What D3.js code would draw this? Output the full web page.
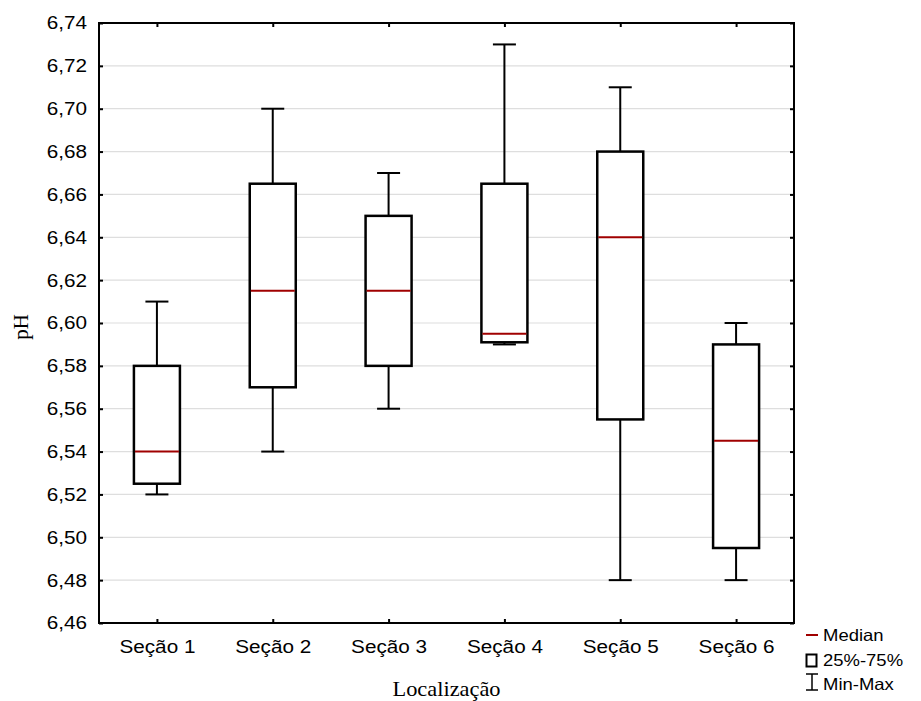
<html>
<meta charset='utf-8'>
<head>
    <script src="https://d3js.org/d3.v7.min.js"></script>
    <style>
      body { margin: 0; background: white; }
    </style>
</head>
<body>
<div id='viz'></div>
<script>
    // data
    const categories = ['Seção 1', 'Seção 2', 'Seção 3', 'Seção 4', 'Seção 5', 'Seção 6'];
    const maxVals    = [6.61, 6.70, 6.67, 6.73, 6.71, 6.60];
    const q3Vals     = [6.58, 6.665, 6.65, 6.665, 6.68, 6.59];
    const medianVals = [6.54, 6.615, 6.615, 6.595, 6.64, 6.545];
    const q1Vals     = [6.525, 6.57, 6.58, 6.591, 6.555, 6.495];
    const minVals    = [6.52, 6.54, 6.56, 6.59, 6.48, 6.48];
    const yTicks = [6.46, 6.48, 6.50, 6.52, 6.54, 6.56, 6.58, 6.60, 6.62, 6.64, 6.66, 6.68, 6.70, 6.72, 6.74];
    const legendLabels = ['Median', '25%-75%', 'Min-Max'];

    const W = 921, H = 701;
    const pLeft = 99, pRight = 794, pTop = 23, pBottom = 623;
    const sx = 1.12; // text in the original is a bit wide
    const sans = '"Liberation Sans", Arial, sans-serif';
    const serif = '"Liberation Serif", "Times New Roman", serif';
    const medColor = '#a00000';

    let svg = d3.select('#viz').append('svg')
        .attr('width', W)
        .attr('height', H);

    let x = d3.scalePoint().domain(categories).range([pLeft, pRight]).padding(0.5);
    let y = d3.scaleLinear().domain([6.46, 6.74]).range([pBottom, pTop]);

    let fmt = d => d3.format('.2f')(d).replace('.', ',');

    // grid
    svg.append('g')
        .selectAll('line')
        .data(yTicks.slice(1, -1))
        .join('line')
        .attr('x1', pLeft).attr('x2', pRight)
        .attr('y1', d => y(d)).attr('y2', d => y(d))
        .attr('stroke', '#dedede')
        .attr('stroke-width', 1.2);

    // boxes
    let data = categories.map((c, i) => ({
        c: c, max: maxVals[i], q3: q3Vals[i], med: medianVals[i], q1: q1Vals[i], min: minVals[i]
    }));
    let boxW = 46, capW = 23;
    let g = svg.append('g').selectAll('g').data(data).join('g');

    g.append('line')
        .attr('x1', d => x(d.c)).attr('x2', d => x(d.c))
        .attr('y1', d => y(d.max)).attr('y2', d => y(d.min))
        .attr('stroke', 'black').attr('stroke-width', 2);
    g.append('line')
        .attr('x1', d => x(d.c) - capW / 2).attr('x2', d => x(d.c) + capW / 2)
        .attr('y1', d => y(d.max)).attr('y2', d => y(d.max))
        .attr('stroke', 'black').attr('stroke-width', 2);
    g.append('line')
        .attr('x1', d => x(d.c) - capW / 2).attr('x2', d => x(d.c) + capW / 2)
        .attr('y1', d => y(d.min)).attr('y2', d => y(d.min))
        .attr('stroke', 'black').attr('stroke-width', 2);
    g.append('rect')
        .attr('x', d => x(d.c) - boxW / 2)
        .attr('width', boxW)
        .attr('y', d => y(d.q3))
        .attr('height', d => y(d.q1) - y(d.q3))
        .attr('fill', 'white')
        .attr('stroke', 'black').attr('stroke-width', 2.5);
    g.append('line')
        .attr('x1', d => x(d.c) - boxW / 2 + 1).attr('x2', d => x(d.c) + boxW / 2 - 1)
        .attr('y1', d => y(d.med)).attr('y2', d => y(d.med))
        .attr('stroke', medColor).attr('stroke-width', 2);

    // axes
    let yAxis = svg.append('g')
        .attr('transform', `translate(${pLeft},0)`)
        .call(d3.axisLeft(y).tickValues(yTicks).tickFormat(fmt).tickSize(-4).tickPadding(12));
    yAxis.selectAll('text')
        .attr('x', -12 / sx)
        .attr('transform', `scale(${sx},1)`);

    let yAxisR = svg.append('g')
        .attr('transform', `translate(${pRight},0)`)
        .call(d3.axisRight(y).tickValues(yTicks).tickFormat('').tickSize(-4));

    let xAxis = svg.append('g')
        .attr('transform', `translate(0,${pBottom})`)
        .call(d3.axisBottom(x).tickSize(-4).tickPadding(17));
    xAxis.selectAll('text').attr('transform', `scale(${sx},1)`);

    let xAxisT = svg.append('g')
        .attr('transform', `translate(0,${pTop})`)
        .call(d3.axisTop(x).tickFormat('').tickSize(-4));

    [yAxis, yAxisR, xAxis, xAxisT].forEach(a => {
        a.select('.domain').remove();
        a.selectAll('line').attr('stroke', 'black').attr('stroke-width', 2);
        a.selectAll('text').attr('font-family', sans).attr('font-size', '18.5px').attr('fill', 'black');
    });

    svg.append('rect')
        .attr('x', pLeft).attr('y', pTop)
        .attr('width', pRight - pLeft).attr('height', pBottom - pTop)
        .attr('fill', 'none').attr('stroke', 'black').attr('stroke-width', 2);

    // axis titles
    svg.append('text')
        .attr('transform', `translate(${(pLeft + pRight) / 2},696) scale(${sx},1)`)
        .attr('text-anchor', 'middle')
        .attr('font-family', serif)
        .attr('font-size', '20px')
        .text('Localização');

    svg.append('text')
        .attr('transform', 'translate(28,327) rotate(-90)')
        .attr('text-anchor', 'middle')
        .attr('font-family', serif)
        .attr('font-size', '21px')
        .text('pH');

    // legend
    let lg = svg.append('g');
    lg.append('line')
        .attr('x1', 806).attr('x2', 818).attr('y1', 635).attr('y2', 635)
        .attr('stroke', medColor).attr('stroke-width', 2);
    lg.append('rect')
        .attr('x', 806.5).attr('y', 654.5).attr('width', 10).attr('height', 12)
        .attr('fill', 'white').attr('stroke', 'black').attr('stroke-width', 2);
    lg.append('line')
        .attr('x1', 812).attr('x2', 812).attr('y1', 674).attr('y2', 690)
        .attr('stroke', 'black').attr('stroke-width', 1.5);
    lg.append('line')
        .attr('x1', 806).attr('x2', 818).attr('y1', 674).attr('y2', 674)
        .attr('stroke', 'black').attr('stroke-width', 1.5);
    lg.append('line')
        .attr('x1', 806).attr('x2', 818).attr('y1', 690).attr('y2', 690)
        .attr('stroke', 'black').attr('stroke-width', 1.5);
    lg.selectAll('text')
        .data(legendLabels)
        .join('text')
        .attr('transform', (d, i) => `translate(823,${641 + i * 24.5}) scale(${sx},1)`)
        .attr('font-family', sans)
        .attr('font-size', '16.5px')
        .text(d => d);
</script>
</body>
</html>
